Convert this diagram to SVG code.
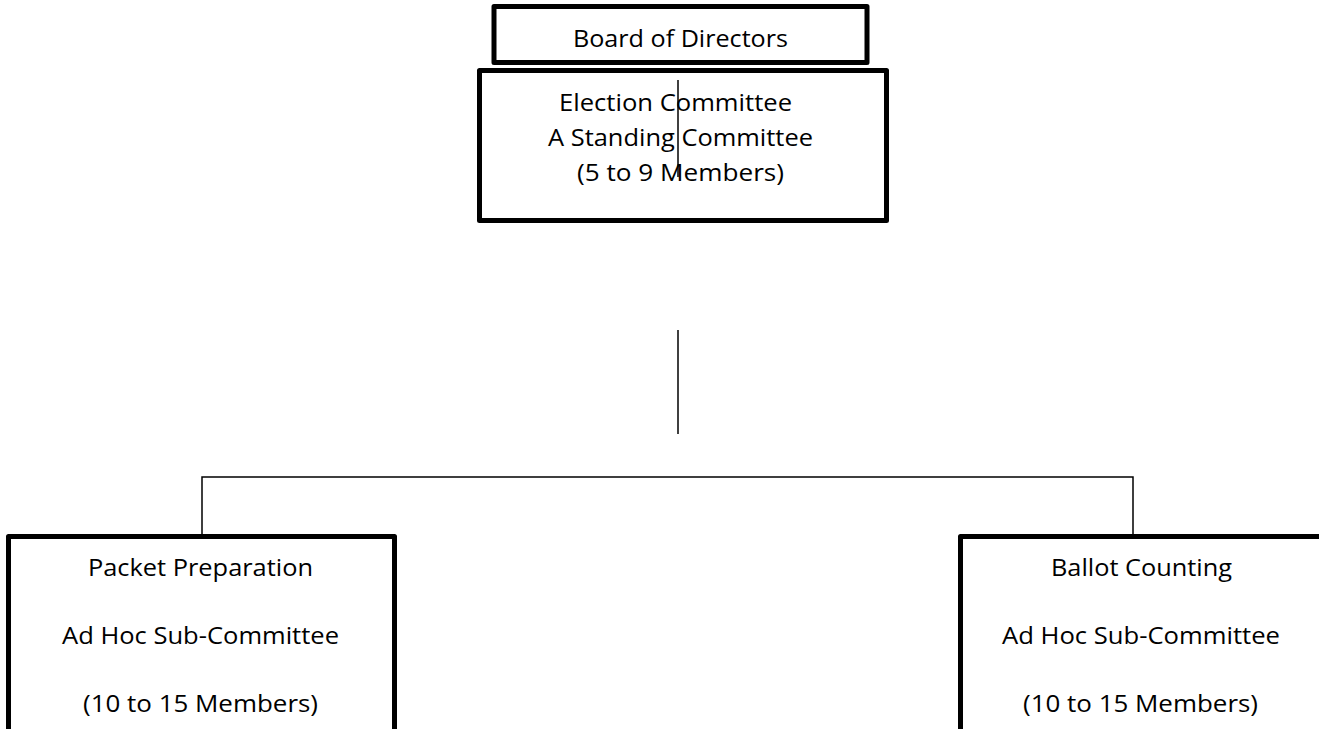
<svg xmlns="http://www.w3.org/2000/svg" width="1319" height="729" viewBox="0 0 1319 729">
<style>
.box{fill:#fff;stroke:#000;stroke-width:5;stroke-linejoin:round}
.conn{fill:none;stroke:#000;stroke-width:1.5}
text{font-family:"Open Sans","Liberation Sans",sans-serif;font-size:24px;fill:#000;text-anchor:middle}
</style>
<rect width="1319" height="729" fill="#fff"/>
<g id="board">
<rect class="box" x="494" y="6.5" width="373" height="56"/>
<text x="680.5" y="47" textLength="215" lengthAdjust="spacingAndGlyphs">Board of Directors</text>
</g>
<g id="election">
<rect class="box" x="479.5" y="70.5" width="407" height="150"/>
<text x="675.5" y="111" textLength="233" lengthAdjust="spacingAndGlyphs">Election Committee</text>
<text x="680.5" y="146" textLength="265" lengthAdjust="spacingAndGlyphs">A Standing Committee</text>
<text x="680.5" y="181" textLength="207" lengthAdjust="spacingAndGlyphs">(5 to 9 Members)</text>
</g>
<g id="packet">
<rect class="box" x="8.5" y="536.5" width="386" height="220"/>
<text x="200.5" y="576" textLength="225" lengthAdjust="spacingAndGlyphs">Packet Preparation</text>
<text x="200.5" y="644" textLength="277" lengthAdjust="spacingAndGlyphs">Ad Hoc Sub-Committee</text>
<text x="200.5" y="712" textLength="235" lengthAdjust="spacingAndGlyphs">(10 to 15 Members)</text>
</g>
<g id="ballot">
<rect class="box" x="960.5" y="536.5" width="386" height="220"/>
<text x="1141.5" y="576" textLength="181" lengthAdjust="spacingAndGlyphs">Ballot Counting</text>
<text x="1141" y="644" textLength="278" lengthAdjust="spacingAndGlyphs">Ad Hoc Sub-Committee</text>
<text x="1140.5" y="712" textLength="235" lengthAdjust="spacingAndGlyphs">(10 to 15 Members)</text>
</g>
<g id="connectors">
<line class="conn" x1="678" y1="80" x2="678" y2="177"/>
<line class="conn" x1="678" y1="330" x2="678" y2="434"/>
<polyline class="conn" points="202,534 202,477 1133,477 1133,534"/>
</g>
</svg>
